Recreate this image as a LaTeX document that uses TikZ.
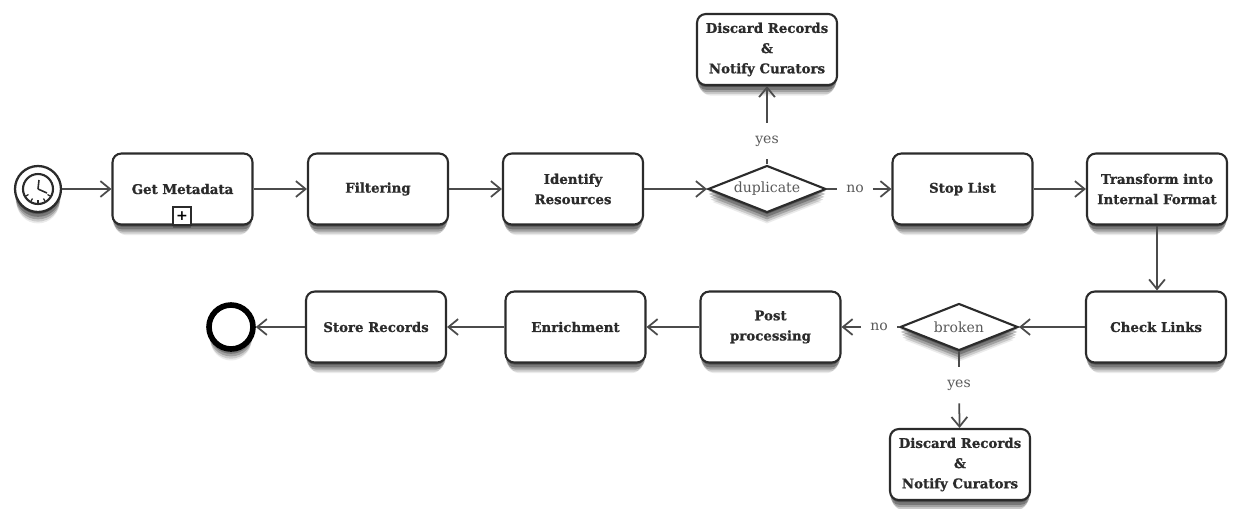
\documentclass[tikz,border=0pt]{standalone}
\usepackage{fontspec}
\setmainfont{DejaVu Serif}
\newfontfamily\taskfont[FakeBold=0.8]{DejaVu Serif Bold}
\usetikzlibrary{arrows.meta,shapes.geometric,shadows}
\definecolor{inkgray}{HTML}{2B2B2B}
\definecolor{labelgray}{HTML}{5A5A5A}
\tikzset{
  softshadow/.style={
    drop shadow={shadow xshift=0cm,shadow yshift=-0.04cm,opacity=.30,fill=black,shadow scale=1.0},
    drop shadow={shadow xshift=0cm,shadow yshift=-0.10cm,opacity=.26,fill=black,shadow scale=0.995},
    drop shadow={shadow xshift=0cm,shadow yshift=-0.16cm,opacity=.20,fill=black,shadow scale=0.98},
    drop shadow={shadow xshift=0cm,shadow yshift=-0.22cm,opacity=.14,fill=black,shadow scale=0.96},
    drop shadow={shadow xshift=0cm,shadow yshift=-0.28cm,opacity=.08,fill=black,shadow scale=0.93}},
  task/.style={draw=inkgray,line width=1.2pt,rounded corners=5pt,fill=white,softshadow,
    minimum width=2.8cm,minimum height=1.42cm,inner sep=0pt,align=center,
    font=\fontsize{7.6}{11.5}\taskfont,text=inkgray},
  gateway/.style={diamond,draw=inkgray,line width=1.2pt,fill=white,softshadow,aspect=2.5,
    minimum width=2.36cm,minimum height=0.94cm,inner sep=0pt,
    font=\fontsize{8}{9}\selectfont,text=labelgray},
  flowlabel/.style={font=\fontsize{8}{9}\selectfont,text=labelgray,inner sep=0pt},
  flow/.style={draw=inkgray!85,line width=1pt,-{Straight Barb[length=5.5pt,width=9pt]}},
  plainflow/.style={draw=inkgray!85,line width=1pt},
}
\begin{document}
\begin{tikzpicture}[x=0.02cm,y=-0.02cm]
  \useasboundingbox (0,0) rectangle (1233,508);

  % Eventi di inizio e fine
  \node[circle,draw=inkgray,line width=1.3pt,fill=white,softshadow,minimum size=0.92cm,inner sep=0pt] (start) at (38,189) {};
  \node[circle,draw=inkgray,line width=1.2pt,minimum size=0.6cm,inner sep=0pt] (clock) at (38,189) {};
  \draw[inkgray,line width=0.9pt] (clock.center) -- ++(1,-9) (clock.center) -- ++(9,4);
  \foreach \ang in {210,240,270,300,330}
    \draw[inkgray,line width=0.7pt] (clock.center) ++(-\ang:11) -- ++(-\ang:4);
  \node[circle,draw=black,line width=3.2pt,fill=white,softshadow,minimum size=0.88cm,inner sep=0pt] (finish) at (231,327) {};

  % Prima riga
  \node[task] (metadata) at (182.5,189) {Get Metadata};
  \node[task] (filtering) at (378,189) {Filtering};
  \node[task] (identify) at (573,189) {Identify\\Resources};
  \node[gateway] (duplicate) at (767,189) {duplicate};
  \node[task] (stoplist) at (962.5,189) {Stop List};
  \node[task] (transform) at (1157,189) {Transform into\\Internal Format};
  \node[task] (discardtop) at (767,49.5) {Discard Records\\\&\\Notify Curators};

  % Marcatore del sottoprocesso
  \node[draw=inkgray,line width=0.9pt,fill=white,minimum size=0.36cm,inner sep=0pt,font=\fontsize{8}{8}\selectfont\bfseries,drop shadow={shadow xshift=0cm,shadow yshift=-0.06cm,opacity=.25,fill=black}] (subprocess) at (182,216) {+};

  % Seconda riga
  \node[task] (checklinks) at (1156,327) {Check Links};
  \node[gateway] (broken) at (959,327) {broken};
  \node[task] (post) at (770.5,327) {Post\\processing};
  \node[task] (enrichment) at (575.5,327) {Enrichment};
  \node[task] (store) at (376,327) {Store Records};
  \node[task] (discardbot) at (960,464.5) {Discard Records\\\&\\Notify Curators};

  % Etichette dei rami
  \node[flowlabel,minimum height=0.72cm] (yestop) at (767,141) {yes};
  \node[flowlabel,minimum width=0.7cm] (notop) at (855,189) {no};
  \node[flowlabel,minimum height=0.72cm] (yesbot) at (959,385) {yes};
  \node[flowlabel,minimum width=0.7cm] (nobot) at (879,327) {no};

  % Collegamenti
  \draw[flow] (start) -- (metadata);
  \draw[flow] (metadata) -- (filtering);
  \draw[flow] (filtering) -- (identify);
  \draw[flow] (identify) -- (duplicate);
  \draw[plainflow] (duplicate) -- (yestop);
  \draw[flow] (yestop) -- (discardtop);
  \draw[plainflow] (duplicate) -- (notop);
  \draw[flow] (notop) -- (stoplist);
  \draw[flow] (stoplist) -- (transform);
  \draw[flow] (transform) -- (transform |- checklinks.north);
  \draw[flow] (checklinks) -- (broken);
  \draw[plainflow] (broken) -- (nobot);
  \draw[flow] (nobot) -- (post);
  \draw[plainflow] (broken) -- (yesbot);
  \draw[flow] (yesbot) -- (discardbot);
  \draw[flow] (post) -- (enrichment);
  \draw[flow] (enrichment) -- (store);
  \draw[flow] (store) -- (finish);
\end{tikzpicture}
\end{document}
